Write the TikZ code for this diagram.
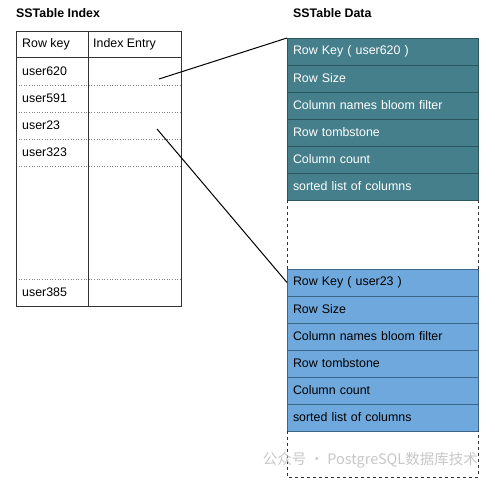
\documentclass[tikz,border=0pt]{standalone}
\usepackage{fontspec}
\setmainfont{Liberation Sans}
\newfontfamily\cjk{Noto Sans CJK SC}
\definecolor{tealfill}{HTML}{447F8B}
\definecolor{tealline}{HTML}{2B5660}
\definecolor{bluefill}{HTML}{6FA8DC}
\definecolor{blueline}{HTML}{3B6589}
\definecolor{tblline}{HTML}{333333}
\begin{document}
\begin{tikzpicture}[x=1pt,y=-1pt,
  every node/.style={font=\fontsize{12.4}{14}\selectfont},
  ttl/.style={anchor=west,font=\fontsize{12.4}{14}\selectfont\bfseries,inner sep=0},
  lbl/.style={anchor=west,inner sep=0},
  cell/.style={anchor=north west,minimum width=191pt,minimum height=27pt,text width=179pt,inner xsep=6pt,inner ysep=0pt,outer sep=0pt,align=left,line width=0.8pt},
  tealrow/.style={cell,fill=tealfill,draw=tealline,text=white},
  bluerow/.style={cell,fill=bluefill,draw=blueline,text=black},
  dotline/.style={gray,dotted,line width=0.6pt},
  link/.style={black,line width=1pt}]
\useasboundingbox (0,0) rectangle (495,482);
% titles
\node[ttl] (t1) at (16,13) {SSTable Index};
\node[ttl] (t2) at (293,13) {SSTable Data};
% index table
\draw[dotline] (16,85) -- (181,85) (16,112) -- (181,112) (16,139) -- (181,139) (16,166) -- (181,166) (16,279) -- (181,279);
\draw[tblline,line width=0.8pt] (16,31) rectangle (181,306);
\draw[tblline,line width=0.8pt] (16,57) -- (181,57) (88,31) -- (88,306);
\node[lbl] (h1) at (22,44) {Row key};
\node[lbl] (h2) at (93,44) {Index Entry};
\node[lbl] (k1) at (22,71) {user620};
\node[lbl] (k2) at (22,98.5) {user591};
\node[lbl] (k3) at (22,125.5) {user23};
\node[lbl] (k4) at (22,152.5) {user323};
\node[lbl] (k5) at (22,292.5) {user385};
% data blocks
\node[tealrow] (a1) at (287,38) {Row Key ( user620 )};
\node[tealrow] (a2) at (a1.south west) {Row Size};
\node[tealrow] (a3) at (a2.south west) {Column names bloom filter};
\node[tealrow] (a4) at (a3.south west) {Row tombstone};
\node[tealrow] (a5) at (a4.south west) {Column count};
\node[tealrow] (a6) at (a5.south west) {sorted list of columns};
\node[bluerow] (b1) at (287,269) {Row Key ( user23 )};
\node[bluerow] (b2) at (b1.south west) {Row Size};
\node[bluerow] (b3) at (b2.south west) {Column names bloom filter};
\node[bluerow] (b4) at (b3.south west) {Row tombstone};
\node[bluerow] (b5) at (b4.south west) {Column count};
\node[bluerow] (b6) at (b5.south west) {sorted list of columns};
\draw[dashed,tblline,line width=0.6pt] (a6.south west) -- (b1.north west) (a6.south east) -- (b1.north east);
\coordinate (bl) at (287,477);
\coordinate (br) at (478,477);
\draw[dashed,tblline,line width=0.6pt] (b6.south west) -- (bl) -- (br) -- (b6.south east);
% connectors
\coordinate (e1) at (159,79);
\coordinate (e2) at (157,129);
\draw[link] (e1) -- (a1.north west);
\draw[link] (e2) -- (b1.west);
% watermark
\node[anchor=east,inner sep=0,text=black!22,font=\fontsize{14.5}{16}\selectfont] (wm) at (478,460) {\cjk 公众号 · PostgreSQL数据库技术};
\end{tikzpicture}
\end{document}
